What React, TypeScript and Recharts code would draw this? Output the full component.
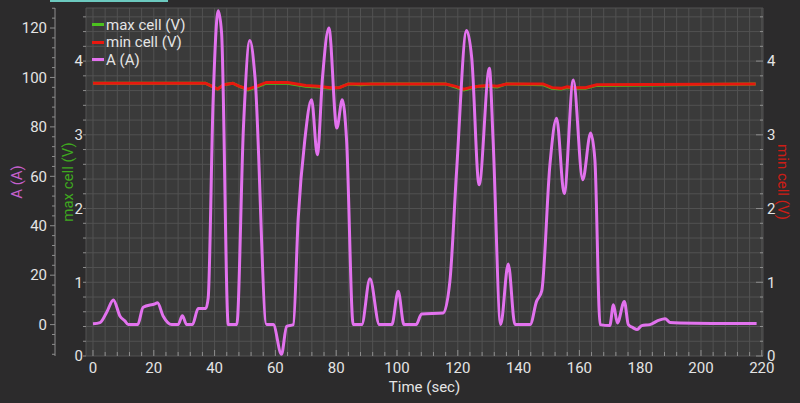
import React from 'react';
import {
  LineChart,
  Line,
  XAxis,
  YAxis,
  CartesianGrid,
  Legend,
  ReferenceArea,
} from 'recharts';

// current draw, sampled where the trace turns
const ampTime = [
  0, 2.3, 4.5, 6.7, 8.9, 10.5, 11.6, 14.7, 16.5, 20.4, 21.2, 23.1, 25.9, 28, 29.4,
  30.8, 32.7, 34.6, 37.1, 37.9, 39.5, 41.2, 42.3, 44.5, 47.3, 49.5, 51.6, 53.3,
  57.1, 59.3, 62, 63.7, 65.9, 67.5, 69.7, 71.9, 73.8, 75.5, 77.6, 80.2, 82, 83.4,
  85.6, 88.4, 91.1, 94.2, 98.3, 100.4, 102.3, 106.3, 108.1, 115.2, 117.4, 119.6,
  122.9, 124.6, 127, 130.4, 131.6, 134.1, 136.6, 138.8, 143.8, 145.9, 147.6, 150.3,
  152.5, 155, 158, 161.1, 163.7, 165.1, 166.8, 170, 171.2, 172.5, 174.8, 176.1,
  177.7, 179, 180.5, 183.2, 186, 188.2, 189.8, 193.1, 218.3,
];
const ampValues = [
  0.3, 0.8, 5, 10, 3.4, 1.5, 0, 0, 7, 8.4, 8.8, 3.4, 0, 0, 3.6,
  0, 0, 6.5, 6.5, 10.8, 90, 127, 118, 0, 0, 80, 115, 100,
  0, 0, -12, -0.7, 0, 43, 75, 91, 68.7, 100, 120, 79.5, 91, 75,
  0, 0, 18.6, 0, 0, 13.5, 0, 0, 4.3, 4.7, 17.5, 62,
  119, 107.7, 56.6, 103.7, 75, 0, 24.5, 0, 0, 9.4, 13.5, 64.6,
  83.5, 53, 99, 58.6, 77.5, 66.7, 0, -0.4, 8, 0.7, 9.4, 0,
  -1.3, -2, -0.4, 0, 1.7, 2.4, 0.9, 0.7, 0.4,
];

// cell voltages
const cellTime = [
  0, 37, 39, 41, 43, 46, 48, 51, 54, 57, 64, 67, 70, 74, 78, 81, 84, 88, 92, 116,
  119, 122, 125, 127, 130, 133, 136, 148, 151, 154, 156, 158, 162, 165.7, 218,
];
const minCellValues = [
  3.7, 3.7, 3.66, 3.62, 3.68, 3.7, 3.66, 3.62, 3.66, 3.71, 3.71, 3.69, 3.67, 3.66,
  3.64, 3.64, 3.69, 3.69, 3.69, 3.69, 3.66, 3.62, 3.65, 3.66, 3.67, 3.66, 3.69,
  3.69, 3.64, 3.63, 3.65, 3.64, 3.64, 3.68, 3.69,
];
const maxCellValues = [
  3.7, 3.7, 3.66, 3.62, 3.68, 3.7, 3.66, 3.61, 3.65, 3.7, 3.7, 3.68, 3.66, 3.65,
  3.63, 3.64, 3.69, 3.68, 3.69, 3.69, 3.65, 3.61, 3.64, 3.66, 3.66, 3.65, 3.69,
  3.68, 3.63, 3.62, 3.64, 3.63, 3.63, 3.67, 3.69,
];

const seriesNames = ['max cell (V)', 'min cell (V)', 'A (A)'];
const timeLabels = [0, 20, 40, 60, 80, 100, 120, 140, 160, 180, 200, 220];
const ampLabels = [0, 20, 40, 60, 80, 100, 120];
const voltLabels = [0, 1, 2, 3, 4];

const range = (from: number, to: number, step: number) => {
  const out: number[] = [];
  for (let v = from; v <= to + 1e-9; v += step) out.push(Math.round(v * 100) / 100);
  return out;
};

const timeTicks = range(0, 220, 4);
const ampTicks = range(-12, 128, 4);
const voltTicks = range(0, 4.6, 0.2);

const ampData = ampTime.map((t, i) => ({ t, amp: ampValues[i] }));
const cellData = cellTime.map((t, i) => ({
  t,
  maxCell: maxCellValues[i],
  minCell: minCellValues[i],
}));

const TEXT = '#e4e4e4';
const TICK = '#8d8d8d';
const FONT = 'Roboto, "Noto Sans", sans-serif';

const isLabel = (list: number[], v: number) => list.some((l) => Math.abs(l - v) < 1e-6);

const AmpTick = ({ x, y, payload }: any) => {
  const major = isLabel(ampLabels, payload.value);
  return (
    <g>
      <line x1={x} x2={x - (major ? 5 : 3)} y1={y} y2={y} stroke={TICK} />
      {major && (
        <text x={x - 8} y={y} dy="0.35em" textAnchor="end" fill={TEXT} fontSize={15} fontFamily={FONT}>
          {payload.value}
        </text>
      )}
    </g>
  );
};

const VoltLeftTick = ({ x, y, payload }: any) => {
  const major = isLabel(voltLabels, payload.value);
  return (
    <g>
      <line x1={x} x2={x - 3} y1={y} y2={y} stroke={TICK} />
      {major && (
        <text x={x - 3} y={y} dy="0.35em" textAnchor="end" fill={TEXT} fontSize={15} fontFamily={FONT}>
          {payload.value}
        </text>
      )}
    </g>
  );
};

const VoltRightTick = ({ x, y, payload }: any) => {
  const major = isLabel(voltLabels, payload.value);
  return (
    <g>
      <line x1={x} x2={x - (major ? 7 : 3)} y1={y} y2={y} stroke={TICK} />
      {major && (
        <text x={x + 4} y={y} dy="0.35em" textAnchor="start" fill={TEXT} fontSize={15} fontFamily={FONT}>
          {payload.value}
        </text>
      )}
    </g>
  );
};

const TimeTick = ({ x, y, payload }: any) => {
  const major = isLabel(timeLabels, payload.value);
  return (
    <g>
      <line x1={x} x2={x} y1={y} y2={y - (major ? 6 : 4)} stroke={TICK} />
      {major && (
        <text x={x} y={y + 12} dy="0.35em" textAnchor="middle" fill={TEXT} fontSize={15} fontFamily={FONT}>
          {payload.value}
        </text>
      )}
    </g>
  );
};

const axisTitle = (text: string, color: string, dx: number, angle: number) => (props: any) => {
  const { viewBox } = props;
  const cx = viewBox.x + dx;
  const cy = viewBox.y + viewBox.height / 2;
  return (
    <text
      x={cx}
      y={cy}
      transform={`rotate(${angle} ${cx} ${cy})`}
      textAnchor="middle"
      dominantBaseline="central"
      fill={color}
      fontSize={15}
      fontFamily={FONT}
    >
      {text}
    </text>
  );
};

const timeTitle = (props: any) => {
  const { viewBox } = props;
  const cx = viewBox.x + viewBox.width / 2;
  return (
    <text x={cx} y={viewBox.y + 31} dy="0.35em" textAnchor="middle" fill={TEXT} fontSize={15} fontFamily={FONT}>
      Time (sec)
    </text>
  );
};

// legend keeps the series order, not alphabetical
const renderLegend = ({ payload }: any) => {
  const items = [...(payload || [])].sort(
    (a: any, b: any) => seriesNames.indexOf(a.value) - seriesNames.indexOf(b.value),
  );
  return (
    <div style={{ fontFamily: FONT, fontSize: 15, color: TEXT }}>
      {items.map((p: any) => (
        <div key={p.value} style={{ display: 'flex', alignItems: 'center', height: 17.5, whiteSpace: 'nowrap' }}>
          <span style={{ width: 12, height: 3, background: p.color, marginRight: 2 }} />
          <span>{p.value}</span>
        </div>
      ))}
    </div>
  );
};

export default function App() {
  return (
    <div
      style={{
        position: 'absolute',
        left: 0,
        top: 0,
        width: 800,
        height: 403,
        background: '#2c2b2c',
        overflow: 'hidden',
      }}
    >
      <div style={{ position: 'absolute', left: 50, top: 0, width: 118, height: 2, background: '#6cc9bf' }} />
      <LineChart width={800} height={403} margin={{ top: 8, right: 0, bottom: 0, left: 0 }}>
        <CartesianGrid
          xAxisId="time"
          yAxisId="cellV"
          fill="#3a3a3a"
          stroke="#525252"
          strokeWidth={1}
        />
        <XAxis
          xAxisId="time"
          dataKey="t"
          type="number"
          domain={[-2.3, 220.4]}
          allowDataOverflow
          ticks={timeTicks}
          interval={0}
          height={47}
          tickSize={0}
          tickMargin={0}
          tickLine={false}
          axisLine={false}
          tick={<TimeTick />}
          label={{ content: timeTitle }}
        />
        <YAxis
          yAxisId="cellV"
          orientation="left"
          type="number"
          domain={[0, 4.72]}
          allowDataOverflow
          ticks={voltTicks}
          interval={0}
          width={31}
          tickSize={0}
          tickMargin={0}
          tickLine={false}
          axisLine={false}
          tick={<VoltLeftTick />}
          label={{ content: axisTitle('max cell (V)', '#3fa81f', 13, -90) }}
        />
        <YAxis
          yAxisId="current"
          orientation="left"
          type="number"
          domain={[-12.7, 128.1]}
          allowDataOverflow
          ticks={ampTicks}
          interval={0}
          width={55}
          tickSize={0}
          tickMargin={0}
          tickLine={false}
          axisLine={{ stroke: TICK }}
          tick={<AmpTick />}
          label={{ content: axisTitle('A (A)', '#c560cc', 17, -90) }}
        />
        <YAxis
          yAxisId="vr"
          orientation="right"
          type="number"
          domain={[0, 4.72]}
          allowDataOverflow
          ticks={voltTicks}
          interval={0}
          width={37}
          tickSize={0}
          tickMargin={0}
          tickLine={false}
          axisLine={false}
          tick={<VoltRightTick />}
          label={{ content: axisTitle('min cell (V)', '#cc1d16', 20, 90) }}
        />
        <ReferenceArea xAxisId="time" yAxisId="cellV" fill="none" stroke="#8a8a8a" strokeWidth={1} />
        <Legend
          layout="vertical"
          align="center"
          verticalAlign="middle"
          content={renderLegend}
          wrapperStyle={{ top: 16, left: 92, width: 'auto', height: 'auto' }}
        />
        <Line
          xAxisId="time"
          yAxisId="cellV"
          data={cellData}
          dataKey="maxCell"
          name="max cell (V)"
          stroke="#4cc21f"
          strokeWidth={3}
          dot={false}
          type="linear"
          isAnimationActive={false}
        />
        <Line
          xAxisId="time"
          yAxisId="vr"
          data={cellData}
          dataKey="minCell"
          name="min cell (V)"
          stroke="#e8170f"
          strokeWidth={3}
          dot={false}
          type="linear"
          isAnimationActive={false}
        />
        <Line
          xAxisId="time"
          yAxisId="current"
          data={ampData}
          dataKey="amp"
          name="A (A)"
          stroke="#e272ee"
          strokeWidth={3}
          dot={false}
          type="monotone"
          isAnimationActive={false}
        />
      </LineChart>
    </div>
  );
}
